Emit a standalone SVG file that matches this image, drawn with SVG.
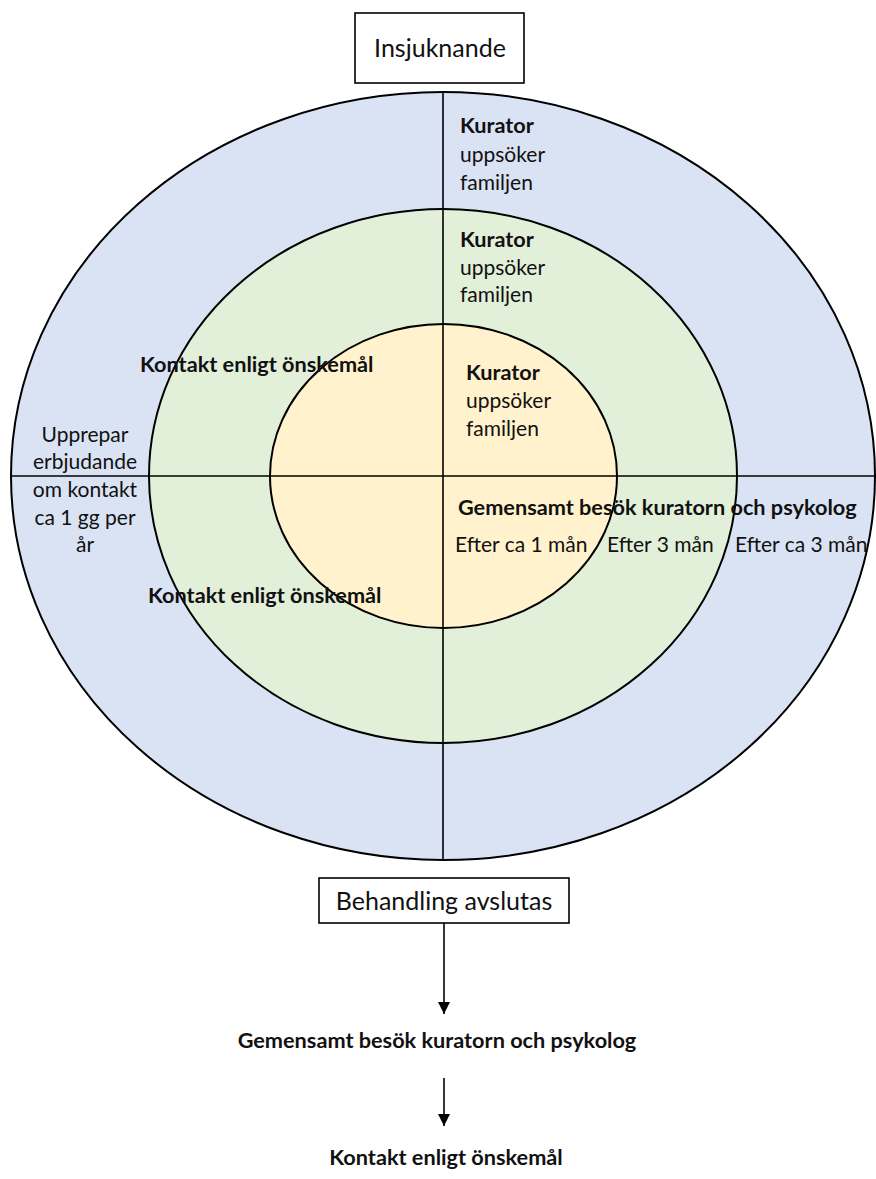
<svg xmlns="http://www.w3.org/2000/svg" width="876" height="1179" viewBox="0 0 876 1179">
<style>
text{font-family:Lato,"Open Sans","Liberation Sans",sans-serif;fill:#111;font-size:21px}
.b{font-weight:bold;font-size:21.7px}
.big{font-size:25px}
.ring{stroke:#000;stroke-width:2}
.ln{stroke:#000;stroke-width:1.6;fill:none}
.box{fill:#fff;stroke:#000;stroke-width:1.6}
.c{text-anchor:middle}
</style>
<defs>
<marker id="ah" viewBox="0 0 12 12" refX="12" refY="6" markerWidth="12" markerHeight="12" markerUnits="userSpaceOnUse" orient="auto">
<path d="M0,0 L12,6 L0,12 Z" fill="#000"/>
</marker>
</defs>
<rect width="876" height="1179" fill="#fff"/>
<g id="outer-ring"><ellipse cx="443" cy="476" rx="432" ry="384" fill="#dae3f3" class="ring"/></g>
<g id="middle-ring"><ellipse cx="443" cy="476" rx="294" ry="267" fill="#e2efd9" class="ring"/></g>
<g id="inner-ring"><ellipse cx="443.5" cy="476" rx="173.5" ry="152" fill="#fff2cc" class="ring"/></g>
<g id="axes">
<line x1="443" y1="92" x2="443" y2="861" class="ln"/>
<line x1="11" y1="476" x2="876" y2="476" class="ln"/>
</g>
<g id="start-box">
<rect x="355" y="13" width="169" height="70" class="box"/>
<text x="440" y="57" class="c big">Insjuknande</text>
</g>
<g id="outer-kurator">
<text x="460" y="133" class="b">Kurator</text>
<text x="460" y="162">uppsöker</text>
<text x="460" y="190">familjen</text>
</g>
<g id="middle-kurator">
<text x="460" y="247" class="b">Kurator</text>
<text x="460" y="275">uppsöker</text>
<text x="460" y="302">familjen</text>
</g>
<g id="inner-kurator">
<text x="466" y="380" class="b">Kurator</text>
<text x="466" y="408">uppsöker</text>
<text x="466" y="436">familjen</text>
</g>
<g id="kontakt-top"><text x="140" y="372" class="b">Kontakt enligt önskemål</text></g>
<g id="kontakt-mid"><text x="148" y="603" class="b">Kontakt enligt önskemål</text></g>
<g id="upprepar">
<text x="85" y="442" class="c">Upprepar</text>
<text x="85" y="469" class="c">erbjudande</text>
<text x="85" y="497" class="c">om kontakt</text>
<text x="85" y="525" class="c">ca 1 gg per</text>
<text x="85" y="552" class="c">år</text>
</g>
<g id="gemensamt-right"><text x="458" y="515" class="b">Gemensamt besök kuratorn och psykolog</text></g>
<g id="efter-1"><text x="455" y="552">Efter ca 1 mån</text></g>
<g id="efter-3"><text x="607" y="552">Efter 3 mån</text></g>
<g id="efter-ca-3"><text x="735" y="552">Efter ca 3 mån</text></g>
<g id="end-box">
<rect x="319" y="878" width="250" height="45" class="box"/>
<text x="444" y="910" class="c big">Behandling avslutas</text>
</g>
<g id="connectors">
<line x1="444" y1="923" x2="444" y2="1014" class="ln" marker-end="url(#ah)"/>
<line x1="444" y1="1078" x2="444" y2="1126" class="ln" marker-end="url(#ah)"/>
</g>
<g id="gemensamt-bottom"><text x="437" y="1048" class="c b">Gemensamt besök kuratorn och psykolog</text></g>
<g id="kontakt-bottom"><text x="446" y="1165" class="c b">Kontakt enligt önskemål</text></g>
</svg>
